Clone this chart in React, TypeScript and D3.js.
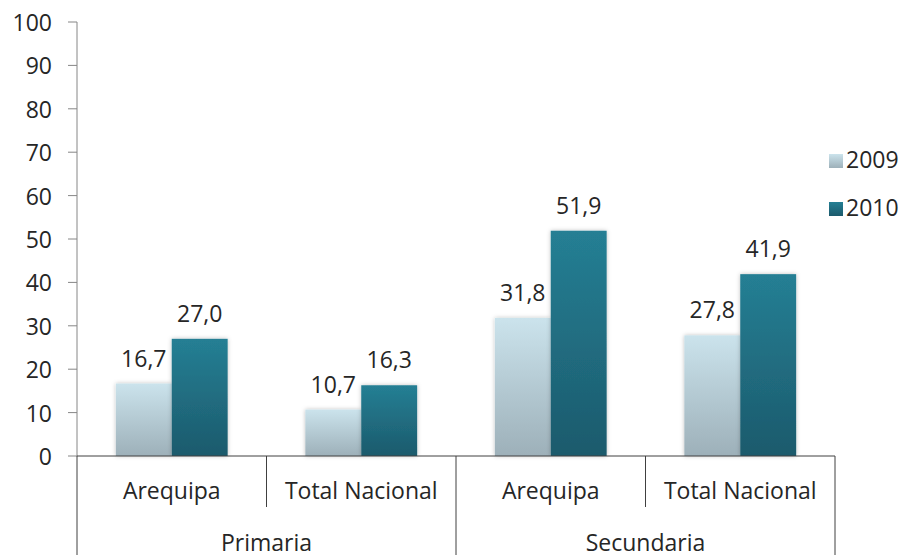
import { useEffect, useRef } from "react";
import * as d3 from "d3";

const groups = ["Primaria", "Secundaria"];
const categories = ["Arequipa", "Total Nacional", "Arequipa", "Total Nacional"];
const series = ["2009", "2010"];
const values2009 = [16.7, 10.7, 31.8, 27.8];
const values2010 = [27.0, 16.3, 51.9, 41.9];
const yTicks = [0, 10, 20, 30, 40, 50, 60, 70, 80, 90, 100];

const W = 906;
const H = 555;
const FONT = "'Open Sans', sans-serif";
const FS = "23px";

export default function App() {
  const ref = useRef<SVGSVGElement>(null);

  useEffect(() => {
    const svg = d3.select(ref.current);
    svg.selectAll("*").remove();

    const left = 77;
    const right = 835;
    const top = 22;
    const bottom = 456;

    const x = d3
      .scaleBand<number>()
      .domain(d3.range(categories.length))
      .range([left, right])
      .padding(0);
    const bw = x.bandwidth();
    const xs = d3
      .scaleBand<string>()
      .domain(series)
      .range([bw * 0.205, bw * 0.795])
      .padding(0);
    const y = d3.scaleLinear().domain([0, 100]).range([bottom, top]);

    const defs = svg.append("defs");
    const g1 = defs
      .append("linearGradient")
      .attr("id", "g2009")
      .attr("x1", 0)
      .attr("y1", 0)
      .attr("x2", 0)
      .attr("y2", 1);
    g1.append("stop").attr("offset", 0).attr("stop-color", "#cbe3ec");
    g1.append("stop").attr("offset", 1).attr("stop-color", "#9db0b9");
    const g2 = defs
      .append("linearGradient")
      .attr("id", "g2010")
      .attr("x1", 0)
      .attr("y1", 0)
      .attr("x2", 0)
      .attr("y2", 1);
    g2.append("stop").attr("offset", 0).attr("stop-color", "#257f94");
    g2.append("stop").attr("offset", 1).attr("stop-color", "#1c5a6c");
    const f = defs
      .append("filter")
      .attr("id", "shadow")
      .attr("x", "-20%")
      .attr("y", "-20%")
      .attr("width", "140%")
      .attr("height", "140%");
    f.append("feDropShadow")
      .attr("dx", 0)
      .attr("dy", 0)
      .attr("stdDeviation", 2)
      .attr("flood-color", "#000")
      .attr("flood-opacity", 0.25);

    // y axis
    svg
      .append("line")
      .attr("x1", left)
      .attr("x2", left)
      .attr("y1", top)
      .attr("y2", bottom)
      .attr("stroke", "#868686")
      .attr("stroke-width", 1);
    svg
      .selectAll(".ytick")
      .data(yTicks)
      .enter()
      .append("line")
      .attr("x1", left - 9)
      .attr("x2", left)
      .attr("y1", (d) => y(d))
      .attr("y2", (d) => y(d))
      .attr("stroke", "#868686");
    svg
      .selectAll(".ylab")
      .data(yTicks)
      .enter()
      .append("text")
      .attr("x", 52)
      .attr("y", (d) => y(d) + 9)
      .attr("text-anchor", "end")
      .style("font-family", FONT)
      .style("font-size", FS)
      .style("fill", "#262626")
      .text((d) => d);

    // bars
    const data = [values2009, values2010];
    series.forEach((s, si) => {
      svg
        .selectAll(".bar" + s)
        .data(data[si])
        .enter()
        .append("rect")
        .attr("x", (d, i) => x(i)! + xs(s)!)
        .attr("y", (d) => y(d))
        .attr("width", xs.bandwidth())
        .attr("height", (d) => bottom - y(d))
        .attr("fill", `url(#g${s})`)
        .attr("filter", "url(#shadow)");
      svg
        .selectAll(".lab" + s)
        .data(data[si])
        .enter()
        .append("text")
        .attr("x", (d, i) => x(i)! + xs(s)! + xs.bandwidth() / 2)
        .attr("y", (d) => y(d) - 17)
        .attr("text-anchor", "middle")
        .style("font-family", FONT)
        .style("font-size", FS)
        .style("fill", "#262626")
        .text((d) => d3.format(".1f")(d).replace(".", ","));
    });

    // x axis
    svg
      .append("line")
      .attr("x1", left)
      .attr("x2", right)
      .attr("y1", bottom)
      .attr("y2", bottom)
      .attr("stroke", "#404040");
    d3.range(categories.length + 1).forEach((i) => {
      const xx = i < categories.length ? x(i)! : right;
      const full = i % 2 === 0;
      svg
        .append("line")
        .attr("x1", xx)
        .attr("x2", xx)
        .attr("y1", bottom)
        .attr("y2", full ? H : 507)
        .attr("stroke", "#404040");
    });
    svg
      .selectAll(".cat")
      .data(categories)
      .enter()
      .append("text")
      .attr("x", (d, i) => x(i)! + bw / 2)
      .attr("y", 499)
      .attr("text-anchor", "middle")
      .style("font-family", FONT)
      .style("font-size", FS)
      .style("fill", "#262626")
      .text((d) => d);
    svg
      .selectAll(".grp")
      .data(groups)
      .enter()
      .append("text")
      .attr("x", (d, i) => x(i * 2)! + bw)
      .attr("y", 551)
      .attr("text-anchor", "middle")
      .style("font-family", FONT)
      .style("font-size", FS)
      .style("fill", "#262626")
      .text((d) => d);

    // legend
    const lg = svg.append("g").attr("transform", "translate(829,154)");
    series.forEach((s, i) => {
      lg.append("rect")
        .attr("x", 0)
        .attr("y", i * 48)
        .attr("width", 14)
        .attr("height", 14)
        .attr("fill", `url(#g${s})`);
      lg.append("text")
        .attr("x", 17)
        .attr("y", i * 48 + 14)
        .style("font-family", FONT)
        .style("font-size", FS)
        .style("fill", "#262626")
        .text(s);
    });
  }, []);

  return (
    <svg
      ref={ref}
      width={W}
      height={H}
      style={{ position: "absolute", left: 0, top: 0, background: "#fff" }}
    />
  );
}
